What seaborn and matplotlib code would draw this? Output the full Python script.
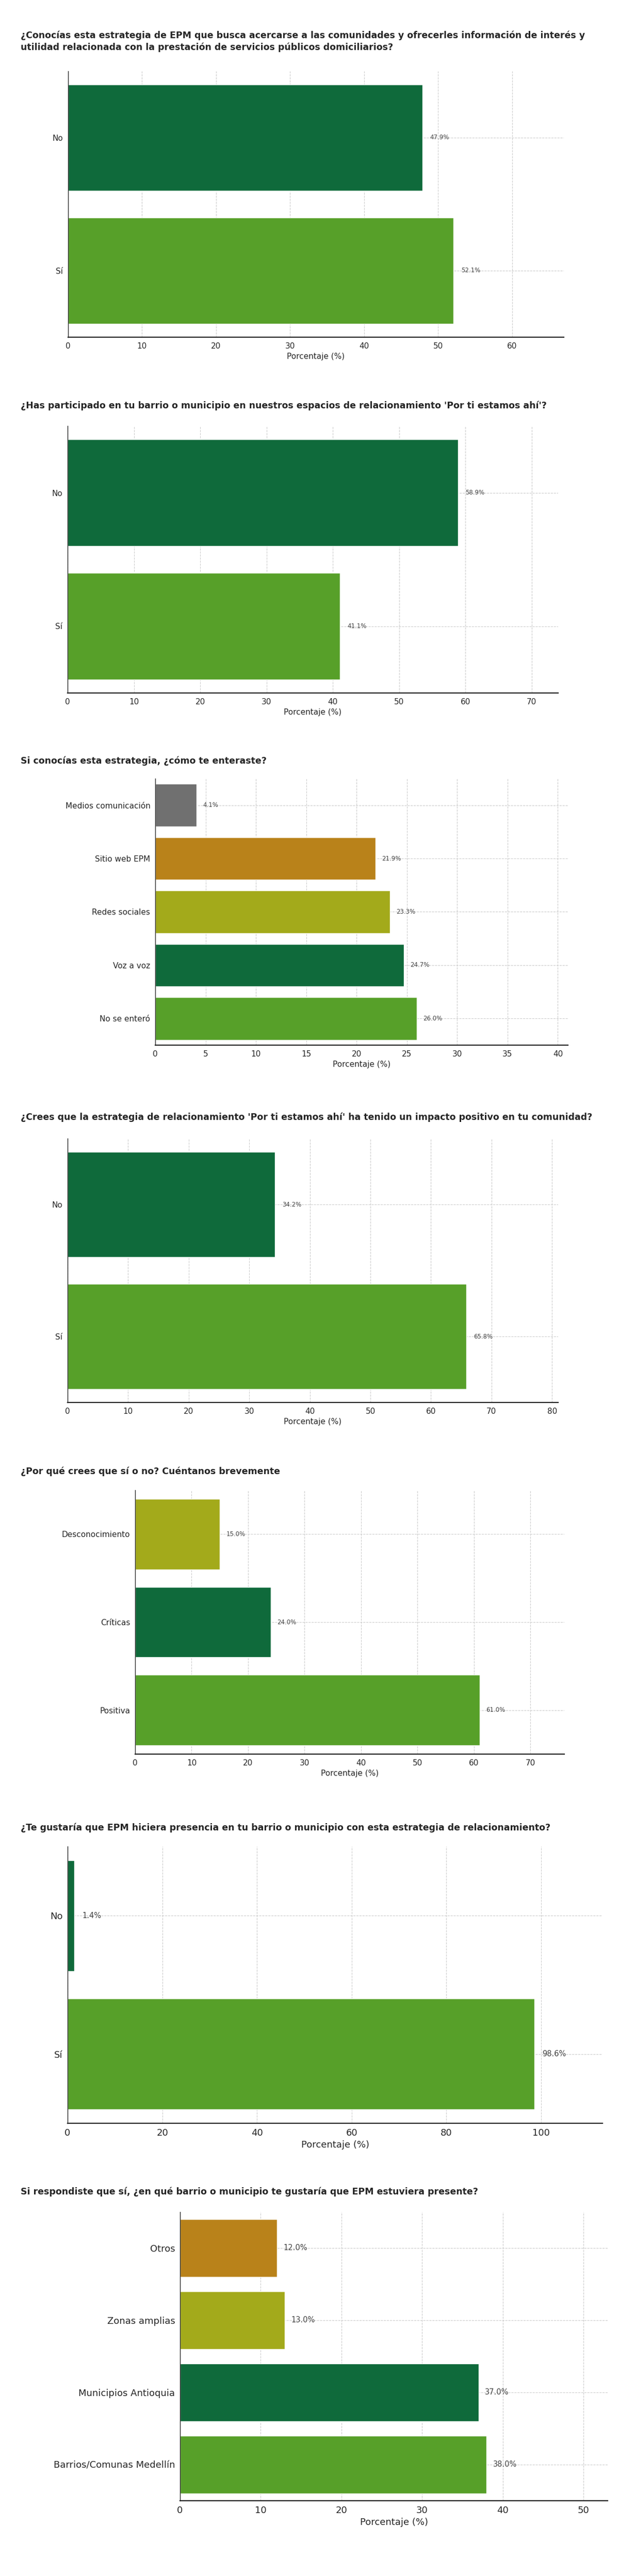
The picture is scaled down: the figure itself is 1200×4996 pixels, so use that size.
import matplotlib
matplotlib.use("Agg")
import matplotlib.pyplot as plt
import seaborn as sns
import pandas as pd

sns.set_style("white")
plt.rcParams['font.family'] = ['DejaVu Sans']

DG, LG, YG, OR, GR = "#00793A", "#52B415", "#B8C203", "#D38A00", "#707070"

titles = [
    "¿Conocías esta estrategia de EPM que busca acercarse a las comunidades y ofrecerles información de interés y\nutilidad relacionada con la prestación de servicios públicos domiciliarios?",
    "¿Has participado en tu barrio o municipio en nuestros espacios de relacionamiento 'Por ti estamos ahí'?",
    "Si conocías esta estrategia, ¿cómo te enteraste?",
    "¿Crees que la estrategia de relacionamiento 'Por ti estamos ahí' ha tenido un impacto positivo en tu comunidad?",
    "¿Por qué crees que sí o no? Cuéntanos brevemente",
    "¿Te gustaría que EPM hiciera presencia en tu barrio o municipio con esta estrategia de relacionamiento?",
    "Si respondiste que sí, ¿en qué barrio o municipio te gustaría que EPM estuviera presente?",
]
cats1 = ["No", "Sí"]; vals1 = [47.9, 52.1]; cols1 = [DG, LG]
cats2 = ["No", "Sí"]; vals2 = [58.9, 41.1]; cols2 = [DG, LG]
cats3 = ["Medios comunicación", "Sitio web EPM", "Redes sociales", "Voz a voz", "No se enteró"]
vals3 = [4.1, 21.9, 23.3, 24.7, 26.0]; cols3 = [GR, OR, YG, DG, LG]
cats4 = ["No", "Sí"]; vals4 = [34.2, 65.8]; cols4 = [DG, LG]
cats5 = ["Desconocimiento", "Críticas", "Positiva"]; vals5 = [15.0, 24.0, 61.0]; cols5 = [YG, DG, LG]
cats6 = ["No", "Sí"]; vals6 = [1.4, 98.6]; cols6 = [DG, LG]
cats7 = ["Otros", "Zonas amplias", "Municipios Antioquia", "Barrios/Comunas Medellín"]
vals7 = [12.0, 13.0, 37.0, 38.0]; cols7 = [OR, YG, DG, LG]

W, H = 1200, 4996
fig = plt.figure(figsize=(W/100, H/100), dpi=100)

# (title_y, left, right, top, bottom, xmax, xticks step, fontsize)
panels = [
    (cats1, vals1, cols1, 60, 132, 1093, 138, 654, 67, 10, 11),
    (cats2, vals2, cols2, 778, 131, 1082, 826, 1344, 74, 10, 11),
    (cats3, vals3, cols3, 1466, 301, 1101, 1510, 2027, 41, 5, 11),
    (cats4, vals4, cols4, 2157, 131, 1082, 2208, 2720, 81, 10, 11),
    (cats5, vals5, cols5, 2845, 262, 1094, 2890, 3402, 76, 10, 11),
    (cats6, vals6, cols6, 3536, 131, 1168, 3581, 4118, 113, 20, 13),
    (cats7, vals7, cols7, 4241, 349, 1178, 4290, 4850, 53, 10, 13),
]

for i, (cats, vals, cols, ty, l, r, t, b, xmax, step, fs) in enumerate(panels):
    fig.text(40/W, 1 - ty/H, titles[i], fontsize=12.5, fontweight='bold',
             va='top', ha='left', linespacing=1.3)
    ax = fig.add_axes([l/W, 1 - b/H, (r-l)/W, (b-t)/H])
    df = pd.DataFrame({"cat": cats, "val": vals})
    sns.barplot(data=df, y="cat", x="val", hue="cat", palette=dict(zip(cats, cols)),
                order=cats, orient="h", width=0.8, legend=False, ax=ax)
    ax.set_xlim(0, xmax)
    ax.set_xticks(range(0, xmax + 1, step))
    ax.set_ylabel("")
    ax.set_xlabel("Porcentaje (%)", fontsize=fs)
    ax.tick_params(labelsize=fs)
    ax.grid(True, linestyle='--', color='#cccccc', linewidth=0.8)
    ax.set_axisbelow(True)
    for s in ["top", "right"]:
        ax.spines[s].set_visible(False)
    ax.spines["bottom"].set_linewidth(1.6)
    ax.spines["left"].set_linewidth(1.0)
    for j, v in enumerate(vals):
        ax.text(v + xmax*0.015, j, f"{v:.1f}%", va='center', ha='left',
                fontsize=fs-2.5, color='#444444')

fig.savefig("out.png", dpi=100)
